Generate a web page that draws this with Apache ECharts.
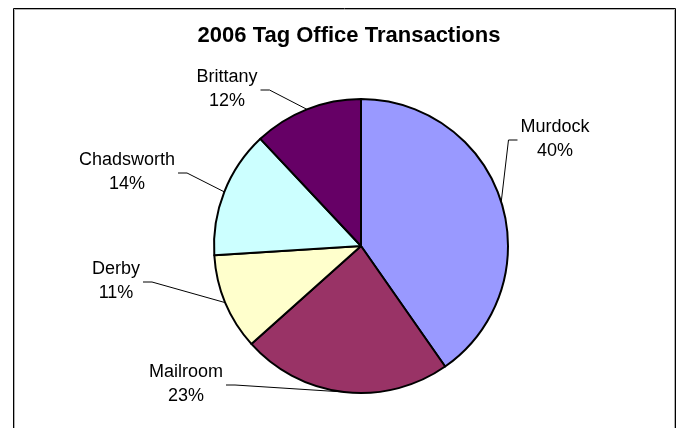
<!DOCTYPE html>
<html><head><meta charset="utf-8">
<script src="https://cdn.jsdelivr.net/npm/echarts@6/dist/echarts.min.js"></script>
<style>html,body{margin:0;padding:0;background:#fff}#c{width:678px;height:428px}</style>
</head><body><div id="c"></div>
<script>
const titleText = '2006 Tag Office Transactions';
const categories = ['Murdock', 'Mailroom', 'Derby', 'Chadsworth', 'Brittany'];
const values = [40.3, 23.1, 10.6, 14.0, 12.0];
const colors = ['#9999FF', '#993366', '#FFFFCC', '#CCFFFF', '#660066'];
// label block centres (layout only)
const labelCenters = [[555, 139], [186, 384], [116, 281], [127, 172], [227, 89]];

const CX = 361, CY = 246, R = 147;
const total = values.reduce((a, b) => a + b, 0);
function midAngle(i) {
  let s = 0;
  for (let k = 0; k < i; k++) s += values[k];
  return (s + values[i] / 2) / total * 2 * Math.PI;
}

const chart = echarts.init(document.getElementById('c'), null, {renderer: 'canvas'});
chart.setOption({
  animation: false,
  backgroundColor: '#fff',
  title: {
    text: titleText, left: 344, top: 20, textAlign: 'center',
    textStyle: {fontFamily: 'Liberation Sans, Arial', fontWeight: 'bold', fontSize: 22, color: '#000'}
  },
  graphic: [
    {type: 'rect', silent: true, shape: {x: 14.5, y: 9.5, width: 660, height: 500}, style: {fill: null, stroke: '#b0b0b0', lineWidth: 1}},
    {type: 'rect', silent: true, shape: {x: 13.5, y: 8.5, width: 662, height: 500}, style: {fill: null, stroke: '#000', lineWidth: 1}}
  ],
  series: [{
    type: 'pie',
    center: [CX, CY],
    radius: R,
    startAngle: 90,
    clockwise: true,
    percentPrecision: 2,
    data: categories.map((n, i) => ({name: n, value: values[i], itemStyle: {color: colors[i]}})),
    itemStyle: {borderColor: '#000', borderWidth: 2},
    label: {
      show: true, position: 'outside',
      formatter: p => p.name + '\n' + Math.round(p.percent) + '%',
      color: '#000', fontFamily: 'Liberation Sans, Arial', fontSize: 18, lineHeight: 24
    },
    labelLine: {show: true, length: 10, length2: 10, lineStyle: {color: '#000', width: 1}},
    labelLayout: function (p) {
      const i = p.dataIndex;
      const c = labelCenters[i];
      const w = p.labelRect.width;
      const a = midAngle(i);
      const ex = CX + R * Math.sin(a), ey = CY - R * Math.cos(a);
      const left = c[0] < ex;
      const endX = left ? c[0] + w / 2 + 3 : c[0] - w / 2 - 3;
      const bendX = left ? endX + 9 : endX - 9;
      const y = c[1] + 1;
      return {
        x: c[0], y: c[1], align: 'center', verticalAlign: 'middle',
        labelLinePoints: [[ex, ey], [bendX, y], [endX, y]]
      };
    },
    emphasis: {disabled: true}
  }]
});
</script>
</body></html>
